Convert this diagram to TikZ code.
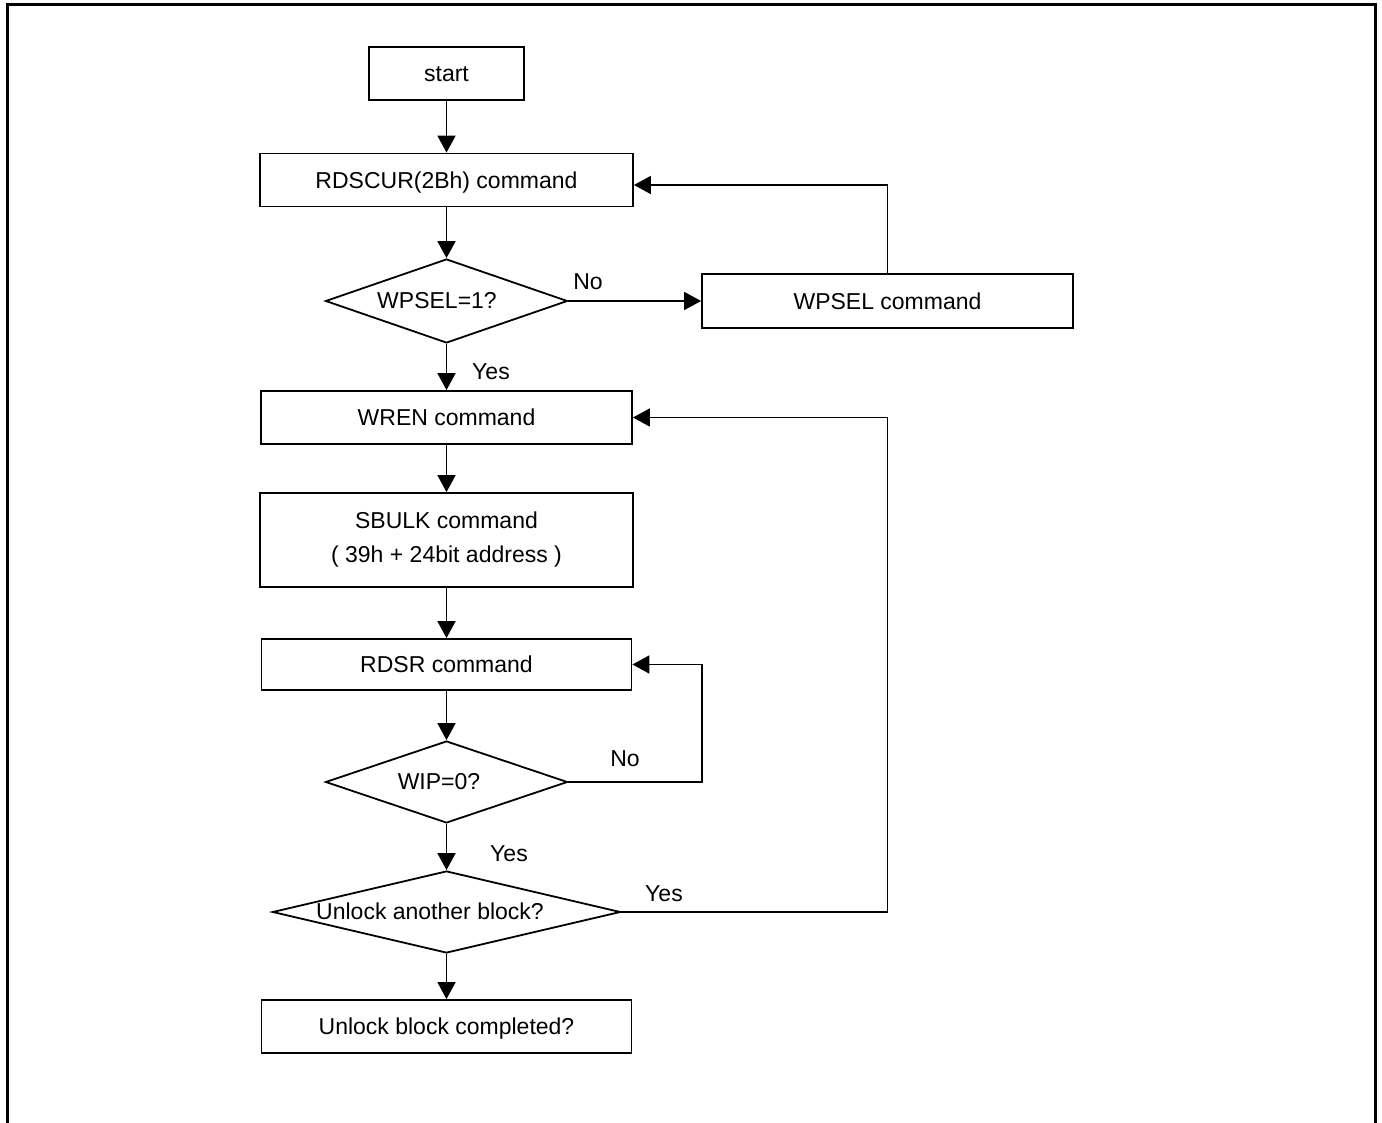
\documentclass[tikz,border=0pt]{standalone}
\usepackage{fontspec}
\setmainfont{Liberation Sans}
\usetikzlibrary{arrows.meta,shapes.geometric,calc}
\begin{document}
\begin{tikzpicture}[x=1pt,y=-1pt,
 every node/.style={font=\fontsize{23}{34}\selectfont},
 box/.style={draw, line width=1.8pt, rectangle, inner sep=0pt},
 onel/.style={text height=16.5pt, text depth=0pt},
 dia/.style={draw, line width=1.8pt, diamond, inner sep=0pt},
 lbl/.style={inner sep=0pt},
 flow/.style={line width=1.8pt, -{Triangle[length=17pt,width=18pt]}},
 frame/.style={line width=3pt}]
\useasboundingbox (0,0) rectangle (1382,1123);
\draw[frame] (7,1123) -- (7,5) -- (1375,5) -- (1375,1123);

\node[box, onel, minimum width=155, minimum height=53] (start) at (446.5,73.5) {start};
\node[box, onel, minimum width=373, minimum height=53] (r1) at (446.5,180) {RDSCUR(2Bh) command};
\node[dia, minimum width=242, minimum height=84] (d1) at (446.5,301) {};
\node[lbl] (t1) at (437,301) {WPSEL=1?};
\node[box, onel, minimum width=371, minimum height=54] (wpsel) at (887.5,301) {WPSEL command};
\node[box, onel, minimum width=371, minimum height=53] (wren) at (446.5,417.5) {WREN command};
\node[box, minimum width=373, minimum height=94, align=center] (sbulk) at (446.5,540) {SBULK command\\( 39h + 24bit address )};
\node[box, onel, minimum width=370, minimum height=51] (rdsr) at (446.5,664.5) {RDSR command};
\node[dia, minimum width=242, minimum height=82] (d2) at (446.5,782) {};
\node[lbl] (t2) at (439,782) {WIP=0?};
\node[dia, minimum width=348, minimum height=82] (d3) at (446.5,912) {};
\node[lbl] (t3) at (430,911) {Unlock another block?};
\node[box, onel, minimum width=370, minimum height=53] (fin) at (446.5,1026.5) {Unlock block completed?};

\node[lbl] (no1) at (588,282) {No};
\node[lbl] (yes1) at (491,372) {Yes};
\node[lbl] (no2) at (625,759) {No};
\node[lbl] (yes2) at (509,854) {Yes};
\node[lbl] (yes3) at (664,894) {Yes};

\coordinate (k1) at (887.5,185);
\coordinate (k2) at (702,664.5);
\coordinate (k3) at (887.5,417.5);

\draw[flow] (start) -- (r1);
\draw[flow] (r1) -- (d1);
\draw[flow] (d1.east) -- (wpsel.west);
\draw[flow] (wpsel.north) -- (k1) -- (k1 -| r1.east);
\draw[flow] (d1.south) -- (wren.north);
\draw[flow] (wren) -- (sbulk);
\draw[flow] (sbulk) -- (rdsr);
\draw[flow] (rdsr) -- (d2.north);
\draw[flow] (d2.east) -| (k2) -- (rdsr.east);
\draw[flow] (d2.south) -- (d3.north);
\draw[flow] (d3.east) -| (k3) -- (wren.east);
\draw[flow] (d3.south) -- (fin.north);
\end{tikzpicture}
\end{document}
